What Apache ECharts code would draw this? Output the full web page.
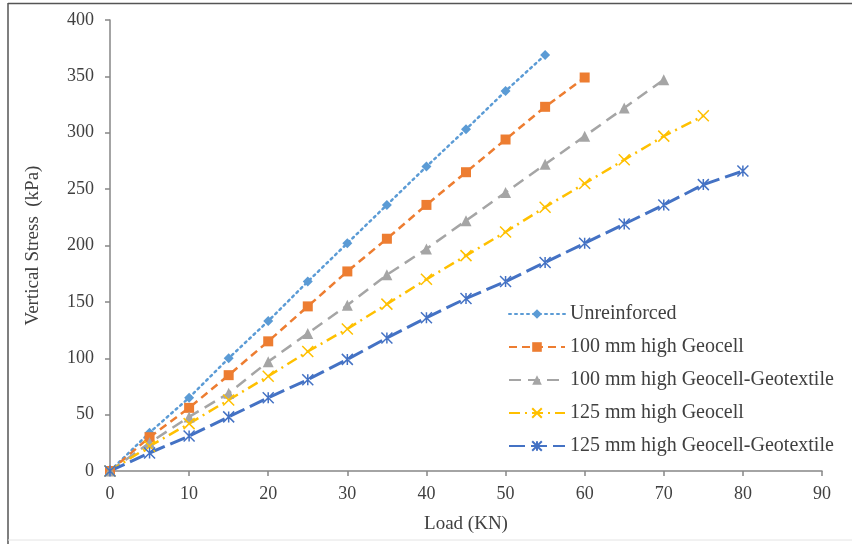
<!DOCTYPE html>
<html>
<head>
<meta charset="utf-8">
<script src="https://cdn.jsdelivr.net/npm/echarts@6/dist/echarts.min.js"></script>
<style>
  html, body { margin: 0; padding: 0; background: #fff; }
  #chart { width: 852px; height: 544px; }
</style>
</head>
<body>
<div id="chart"></div>
<script>
// load steps (KN)
const loads = [0, 5, 10, 15, 20, 25, 30, 35, 40, 45, 50, 55, 60, 65, 70, 75, 80];

// vertical stress (kPa)
const unreinforced = [0, 34, 65, 100, 133, 168, 202, 236, 270, 303, 337, 369];
const geocell100 = [0, 30, 56, 85, 115, 146, 177, 206, 236, 265, 294, 323, 349];
const geotextile100 = [0, 25, 48, 69, 97, 122, 147, 174, 197, 222, 247, 272, 297, 322, 347];
const geocell125 = [0, 22, 42, 63, 84, 106, 126, 148, 170, 191, 212, 234, 255, 276, 297, 315];
const geotextile125 = [0, 16, 31, 48, 65, 81, 99, 118, 136, 153, 168, 185, 202, 219, 236, 254, 266];

const seriesNames = [
  'Unreinforced',
  '100 mm high Geocell',
  '100 mm high Geocell-Geotextile',
  '125 mm high Geocell',
  '125 mm high Geocell-Geotextile'
];

const pairs = (vals) => vals.map((v, i) => [loads[i], v]);

const font = '"Liberation Serif", "Times New Roman", serif';
const axisGray = '#868686';
const textGray = '#404040';

const crossPath = 'path://M0,0L10,10M10,0L0,10';
const starPath = 'path://M0,0L10,10M10,0L0,10M5,0L5,10';

const chart = echarts.init(document.getElementById('chart'));
chart.setOption({
  animation: false,
  backgroundColor: '#fff',
  grid: { left: 110, right: 30, top: 20, bottom: 73 },
  xAxis: {
    type: 'value',
    min: 0, max: 90, interval: 10,
    name: 'Load (KN)',
    nameLocation: 'middle',
    nameGap: 44,
    nameTextStyle: { fontFamily: font, fontSize: 19, color: textGray },
    axisLine: { lineStyle: { color: axisGray, width: 1.5 } },
    axisTick: { show: true, length: 5, lineStyle: { color: axisGray, width: 1.5 } },
    axisLabel: { fontFamily: font, fontSize: 18, color: textGray, margin: 14 },
    splitLine: { show: false }
  },
  yAxis: {
    type: 'value',
    min: 0, max: 400, interval: 50,
    name: 'Vertical Stress  (kPa)',
    nameLocation: 'middle',
    nameGap: 67,
    nameTextStyle: { fontFamily: font, fontSize: 19, color: textGray },
    axisLine: { show: true, lineStyle: { color: axisGray, width: 1.5 } },
    axisTick: { show: true, length: 5, lineStyle: { color: axisGray, width: 1.5 } },
    axisLabel: { fontFamily: font, fontSize: 18, color: textGray, margin: 16 },
    splitLine: { show: false }
  },
  legend: {
    orient: 'vertical',
    left: 503,
    top: 299,
    itemWidth: 56,
    itemHeight: 12,
    itemGap: 13,
    textStyle: { fontFamily: font, fontSize: 20, color: textGray },
    data: seriesNames
  },
  graphic: [
    { type: 'line', shape: { x1: 8, y1: 3, x2: 8, y2: 544 }, style: { stroke: '#555', lineWidth: 1.5 } },
    { type: 'line', shape: { x1: 8, y1: 3.5, x2: 852, y2: 3.5 }, style: { stroke: '#555', lineWidth: 1.5 } },
    { type: 'line', shape: { x1: 8, y1: 540, x2: 852, y2: 540 }, style: { stroke: '#e4e4e4', lineWidth: 1 } }
  ],
  series: [
    {
      name: seriesNames[0], type: 'line', data: pairs(unreinforced),
      symbol: 'diamond', symbolSize: 10,
      itemStyle: { color: '#5B9BD5' },
      lineStyle: { color: '#5B9BD5', width: 2.5, type: [2, 4], cap: 'round' }
    },
    {
      name: seriesNames[1], type: 'line', data: pairs(geocell100),
      symbol: 'rect', symbolSize: 10,
      itemStyle: { color: '#ED7D31' },
      lineStyle: { color: '#ED7D31', width: 2.5, type: [8, 5] }
    },
    {
      name: seriesNames[2], type: 'line', data: pairs(geotextile100),
      symbol: 'triangle', symbolSize: 11,
      itemStyle: { color: '#A5A5A5' },
      lineStyle: { color: '#A5A5A5', width: 2.5, type: [12, 7] }
    },
    {
      name: seriesNames[3], type: 'line', data: pairs(geocell125),
      symbol: crossPath, symbolSize: 11,
      itemStyle: { color: 'rgba(0,0,0,0)', borderColor: '#FFC000', borderWidth: 1.5 },
      lineStyle: { color: '#FFC000', width: 2.5, type: [11, 5, 2, 5] }
    },
    {
      name: seriesNames[4], type: 'line', data: pairs(geotextile125),
      symbol: starPath, symbolSize: 11,
      itemStyle: { color: 'rgba(0,0,0,0)', borderColor: '#4472C4', borderWidth: 1.5 },
      lineStyle: { color: '#4472C4', width: 3, type: [16, 6] }
    }
  ]
});
</script>
</body>
</html>
